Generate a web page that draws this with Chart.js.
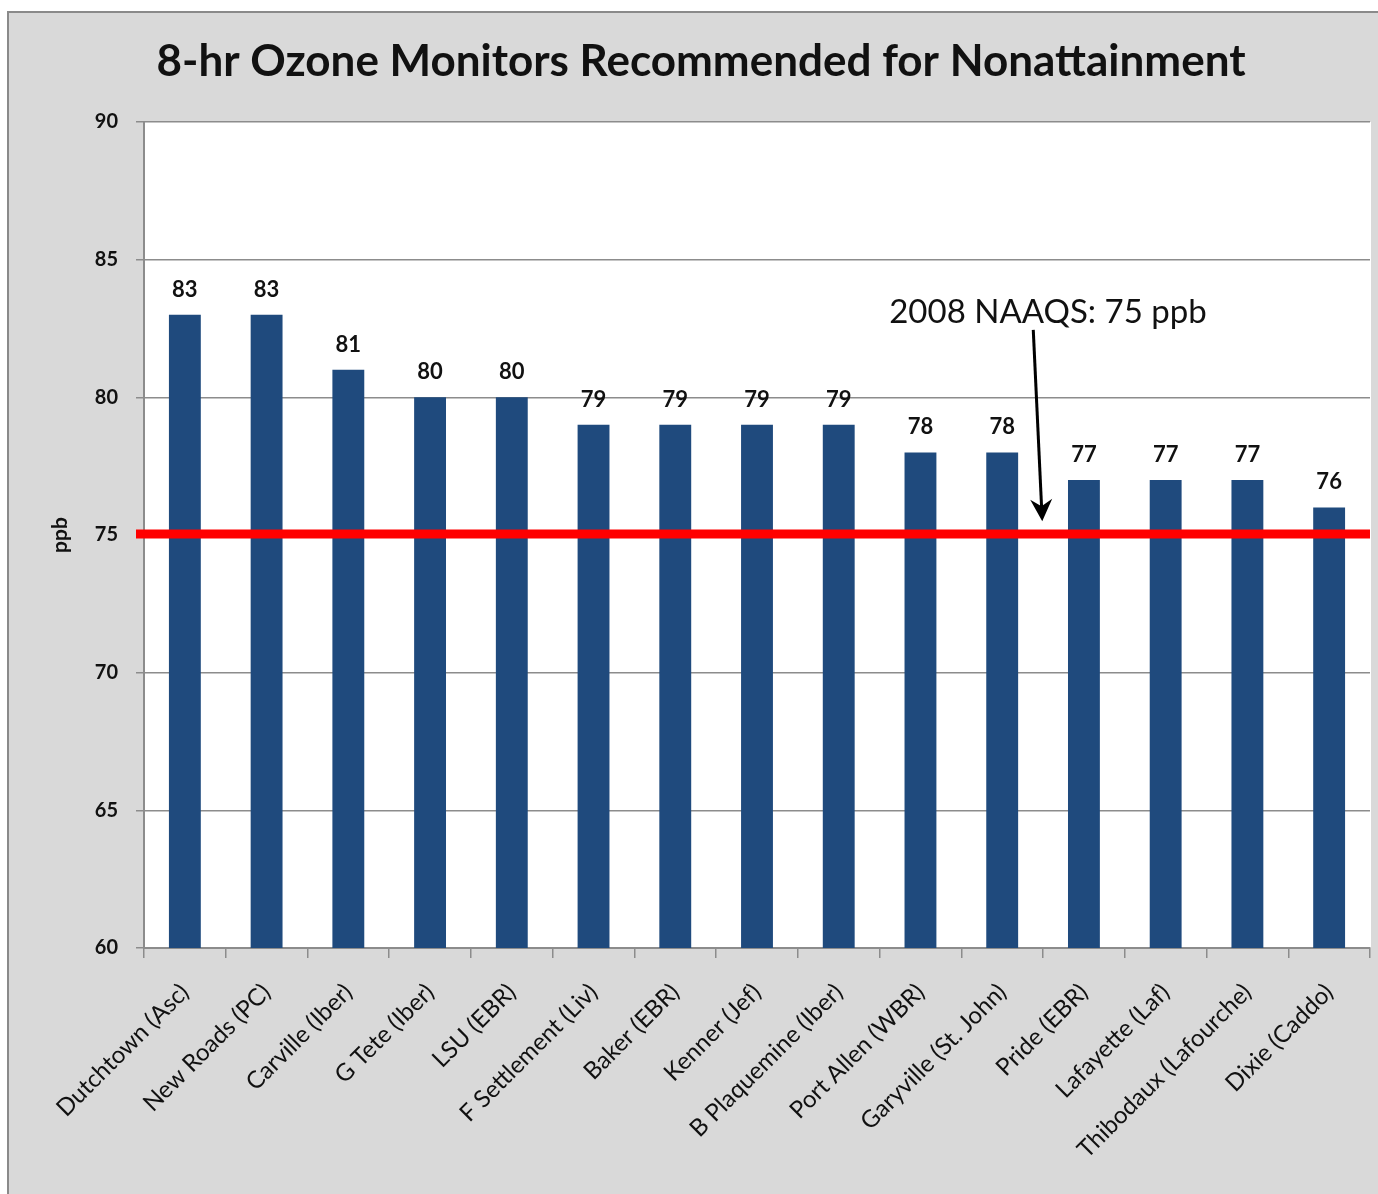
<!DOCTYPE html>
<html>
<head>
<meta charset="utf-8">
<style>
  html, body { margin: 0; padding: 0; background: #ffffff; }
  #wrap { position: relative; width: 1378px; height: 1194px; }
</style>
<script src="https://cdn.jsdelivr.net/npm/chart.js@4"></script>
</head>
<body>
<div id="wrap"><canvas id="c" width="1378" height="1194"></canvas></div>
<script>
// ---- data ----
const chartTitle = "8-hr Ozone Monitors Recommended for Nonattainment";
const categories = ["Dutchtown (Asc)", "New Roads (PC)", "Carville (Iber)", "G Tete (Iber)", "LSU (EBR)",
  "F Settlement (Liv)", "Baker (EBR)", "Kenner (Jef)", "B Plaquemine (Iber)", "Port Allen (WBR)",
  "Garyville (St. John)", "Pride (EBR)", "Lafayette (Laf)", "Thibodaux (Lafourche)", "Dixie (Caddo)"];
const ozoneValues = [83, 83, 81, 80, 80, 79, 79, 79, 79, 78, 78, 77, 77, 77, 76];
const yTicks = [60, 65, 70, 75, 80, 85, 90];
const yAxisLabel = "ppb";
const standardValue = 75;
const annotationText = "2008 NAAQS: 75 ppb";
// annotation placement in data terms (category index, value)
const annotationTextPos = [10.56, 83.1];
const arrowFrom = [10.38, 82.45];
const arrowTo = [10.49, 75.5];

const FONT = "Lato, 'Open Sans', 'Liberation Sans', sans-serif";
const GRID = "#8c8c8c";

const decorPlugin = {
  id: "decor",
  beforeDraw(chart) {
    const ctx = chart.ctx;
    const a = chart.chartArea;
    ctx.save();
    ctx.fillStyle = "#ffffff";
    ctx.fillRect(0, 0, chart.width, chart.height);
    ctx.fillStyle = "#d9d9d9";
    ctx.fillRect(8, 11, chart.width - 8, chart.height - 11);
    ctx.strokeStyle = "#8a8a8a";
    ctx.lineWidth = 2;
    ctx.beginPath();
    ctx.moveTo(7, 12); ctx.lineTo(chart.width, 12);
    ctx.moveTo(8, 11); ctx.lineTo(8, chart.height);
    ctx.stroke();
    ctx.fillStyle = "#ffffff";
    ctx.fillRect(a.left, a.top, a.right - a.left + 1, a.bottom - a.top);
    ctx.restore();
  },
  afterDatasetsDraw(chart) {
    const ctx = chart.ctx;
    const xs = chart.scales.x, ys = chart.scales.y;
    const a = chart.chartArea;
    const step = xs.getPixelForValue(1) - xs.getPixelForValue(0);
    const xAt = (i) => xs.getPixelForValue(0) + i * step;
    ctx.save();
    // standard line
    const yStd = ys.getPixelForValue(standardValue) - 1;
    ctx.strokeStyle = "#ff0000";
    ctx.lineWidth = 9;
    ctx.beginPath();
    ctx.moveTo(a.left - 8, yStd);
    ctx.lineTo(a.right, yStd);
    ctx.stroke();
    // data labels
    ctx.fillStyle = "#111111";
    ctx.font = "bold 22px " + FONT;
    ctx.textAlign = "center";
    ctx.textBaseline = "alphabetic";
    const meta = chart.getDatasetMeta(0);
    meta.data.forEach((bar, i) => {
      ctx.fillText(String(ozoneValues[i]), bar.x, bar.y - 18);
    });
    // annotation text
    ctx.font = "33px " + FONT;
    ctx.textBaseline = "middle";
    ctx.fillText(annotationText, xAt(annotationTextPos[0]), ys.getPixelForValue(annotationTextPos[1]));
    // arrow
    const x1 = xAt(arrowFrom[0]), y1 = ys.getPixelForValue(arrowFrom[1]);
    const x2 = xAt(arrowTo[0]), y2 = ys.getPixelForValue(arrowTo[1]);
    const ang = Math.atan2(y2 - y1, x2 - x1);
    ctx.strokeStyle = "#000000";
    ctx.lineWidth = 3;
    ctx.beginPath();
    ctx.moveTo(x1, y1);
    ctx.lineTo(x2 - 10 * Math.cos(ang), y2 - 10 * Math.sin(ang));
    ctx.stroke();
    ctx.translate(x2, y2);
    ctx.rotate(ang);
    ctx.fillStyle = "#000000";
    ctx.beginPath();
    ctx.moveTo(0, 0);
    ctx.lineTo(-22, -11);
    ctx.lineTo(-15, 0);
    ctx.lineTo(-22, 11);
    ctx.closePath();
    ctx.fill();
    ctx.setTransform(1, 0, 0, 1, 0, 0);
    // y axis title
    ctx.save();
    ctx.translate(60, ys.getPixelForValue(standardValue));
    ctx.rotate(-Math.PI / 2);
    ctx.font = "bold 21px " + FONT;
    ctx.fillStyle = "#111111";
    ctx.textAlign = "center";
    ctx.textBaseline = "middle";
    ctx.fillText(yAxisLabel, 0, 0);
    ctx.restore();
    // title
    ctx.font = "bold 44px " + FONT;
    ctx.fillStyle = "#111111";
    ctx.textAlign = "center";
    ctx.textBaseline = "middle";
    ctx.fillText(chartTitle, 701, 62);
    ctx.restore();
  }
};

new Chart(document.getElementById("c"), {
  type: "bar",
  data: {
    labels: categories,
    datasets: [{
      data: ozoneValues,
      backgroundColor: "#1f4a7d",
      borderWidth: 0,
      categoryPercentage: 1.0,
      barPercentage: 0.39
    }]
  },
  options: {
    responsive: false,
    animation: false,
    devicePixelRatio: 1,
    layout: { padding: { left: 0, top: 122, right: 8, bottom: 0 } },
    plugins: { legend: { display: false }, tooltip: { enabled: false }, title: { display: false } },
    scales: {
      x: {
        afterFit(scale) { scale.height = 246; },
        grid: { display: true, drawOnChartArea: false, drawTicks: true, tickLength: 10, color: GRID, lineWidth: 1.5, offset: true },
        border: { display: true, color: GRID, width: 2 },
        ticks: {
          autoSkip: false, minRotation: 45, maxRotation: 45, padding: 20,
          color: "#111111", font: { family: FONT, size: 24 }
        }
      },
      y: {
        min: 60, max: 90,
        afterFit(scale) { scale.width = 144; },
        afterBuildTicks(scale) { scale.ticks = yTicks.map(v => ({ value: v })); },
        grid: { color: GRID, lineWidth: 1.5, tickLength: 8, drawTicks: true },
        border: { display: true, color: GRID, width: 2 },
        ticks: { padding: 18, color: "#111111", font: { family: FONT, size: 20, weight: "bold" } }
      }
    }
  },
  plugins: [decorPlugin]
});
</script>
</body>
</html>
